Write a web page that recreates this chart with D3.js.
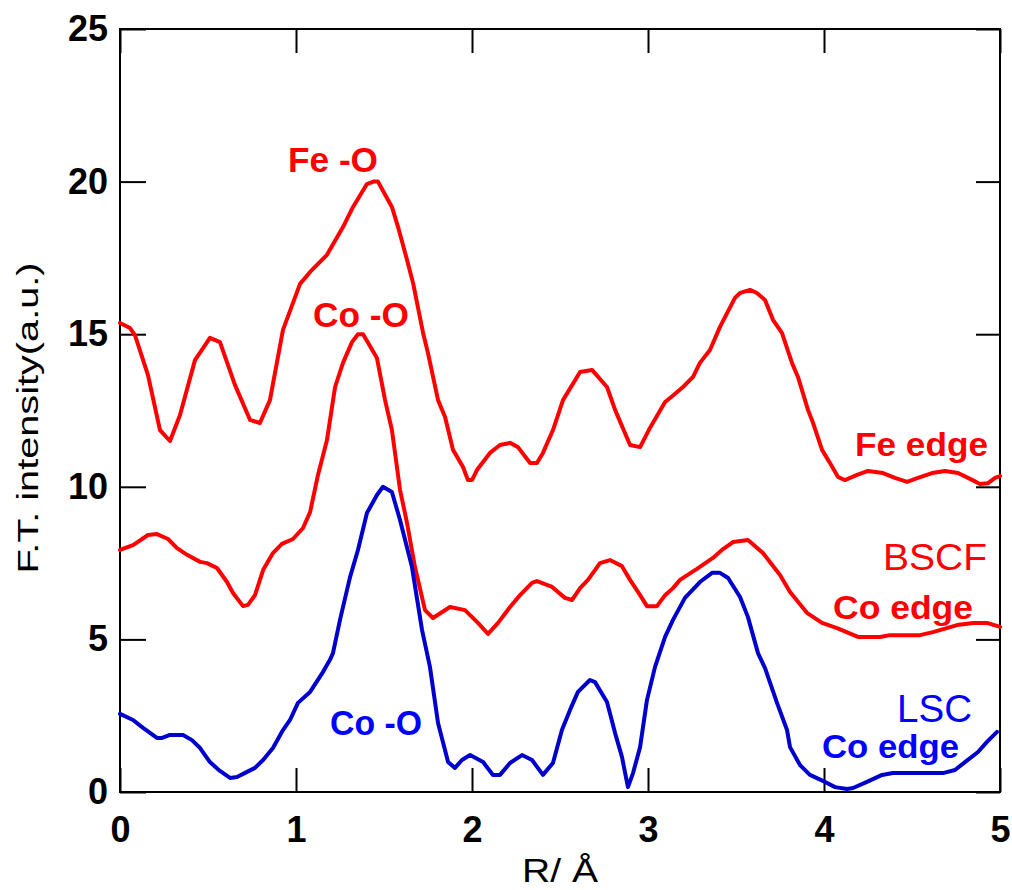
<!DOCTYPE html>
<html><head><meta charset="utf-8">
<script src="https://cdn.jsdelivr.net/npm/d3@7"></script>
<style>body{margin:0;background:#fff}svg{display:block}</style>
</head><body><svg id="c" width="1012" height="890"></svg>
<script>
// ---- data ----
const xTicks = [0, 1, 2, 3, 4, 5];
const yTicks = [0, 5, 10, 15, 20, 25];

const feEdgeR = [0,0.057,0.085,0.159,0.227,0.284,0.341,0.426,0.511,0.568,0.653,0.739,0.795,0.852,0.926,1.023,1.080,1.176,1.267,1.324,1.403,1.440,1.466,1.494,1.545,1.580,1.631,1.665,1.722,1.750,1.807,1.847,1.892,1.949,1.977,2.000,2.028,2.102,2.159,2.216,2.261,2.330,2.369,2.403,2.460,2.517,2.614,2.682,2.767,2.813,2.869,2.898,2.955,3.011,3.097,3.125,3.199,3.256,3.295,3.352,3.409,3.494,3.523,3.580,3.619,3.665,3.710,3.761,3.818,3.852,3.909,3.938,3.989,4.034,4.080,4.119,4.188,4.250,4.335,4.403,4.472,4.534,4.614,4.688,4.761,4.830,4.886,4.932,4.972,5.0];
const feEdgeV = [15.37,15.20,14.97,13.66,11.86,11.50,12.35,14.15,14.88,14.74,13.34,12.19,12.09,12.84,15.14,16.65,17.04,17.60,18.51,19.17,19.92,20.0,20.0,19.70,19.17,18.51,17.43,16.68,15.04,14.38,12.84,12.29,11.21,10.65,10.22,10.22,10.55,11.11,11.37,11.44,11.30,10.78,10.78,11.11,11.86,12.84,13.76,13.83,13.27,12.52,11.76,11.37,11.30,11.93,12.78,12.91,13.27,13.60,14.06,14.48,15.24,16.19,16.35,16.45,16.35,16.12,15.47,15.04,14.06,13.60,12.52,12.09,11.21,10.78,10.32,10.22,10.39,10.52,10.45,10.29,10.16,10.29,10.45,10.52,10.45,10.26,10.09,10.12,10.29,10.35];

const bscfCoR = [0,0.074,0.159,0.210,0.273,0.324,0.381,0.455,0.494,0.551,0.608,0.642,0.699,0.727,0.767,0.813,0.869,0.920,0.983,1.040,1.080,1.125,1.176,1.222,1.267,1.318,1.352,1.381,1.460,1.506,1.545,1.591,1.631,1.676,1.733,1.778,1.875,1.960,2.034,2.091,2.148,2.216,2.273,2.341,2.369,2.455,2.528,2.568,2.614,2.659,2.727,2.784,2.852,2.898,2.955,2.994,3.051,3.097,3.142,3.182,3.278,3.369,3.420,3.483,3.568,3.653,3.750,3.807,3.903,3.989,4.074,4.193,4.318,4.375,4.545,4.619,4.756,4.847,4.926,5.0];
const bscfCoV = [7.93,8.09,8.42,8.45,8.29,7.99,7.77,7.54,7.50,7.34,6.88,6.52,6.09,6.13,6.45,7.27,7.83,8.13,8.29,8.65,9.17,10.39,11.53,13.27,14.06,14.74,15.0,15.0,14.22,12.84,11.86,9.90,8.81,7.37,5.96,5.70,6.06,5.96,5.54,5.18,5.54,6.06,6.45,6.85,6.91,6.72,6.36,6.29,6.68,6.95,7.50,7.60,7.40,6.95,6.45,6.09,6.09,6.45,6.68,6.95,7.31,7.67,7.93,8.19,8.26,7.83,7.11,6.55,5.87,5.54,5.37,5.08,5.08,5.14,5.14,5.24,5.47,5.54,5.54,5.41];

const lscCoR = [0,0.074,0.131,0.210,0.239,0.284,0.358,0.409,0.455,0.511,0.568,0.625,0.665,0.722,0.767,0.813,0.869,0.926,0.966,1.011,1.080,1.153,1.193,1.210,1.250,1.307,1.352,1.403,1.460,1.494,1.545,1.591,1.659,1.716,1.761,1.807,1.864,1.903,1.943,1.989,2.063,2.119,2.159,2.216,2.284,2.341,2.403,2.460,2.511,2.557,2.602,2.670,2.699,2.767,2.813,2.852,2.886,2.915,2.955,2.994,3.040,3.097,3.142,3.210,3.295,3.364,3.409,3.455,3.523,3.568,3.625,3.665,3.733,3.790,3.807,3.864,3.920,4.006,4.063,4.131,4.165,4.244,4.330,4.392,4.545,4.676,4.744,4.801,4.875,4.926,4.983];
const lscCoV = [2.56,2.36,2.10,1.77,1.77,1.87,1.87,1.70,1.44,0.98,0.69,0.46,0.49,0.66,0.79,1.05,1.44,2.03,2.36,2.92,3.28,3.93,4.33,4.55,5.64,7.04,7.93,9.14,9.73,10.0,9.83,8.91,7.37,5.31,4.10,2.26,0.98,0.79,1.05,1.21,0.98,0.56,0.56,0.95,1.21,1.05,0.56,0.95,2.03,2.69,3.28,3.67,3.60,2.95,1.93,1.15,0.16,0.62,1.47,3.01,4.10,5.08,5.64,6.36,6.88,7.18,7.18,7.01,6.39,5.73,4.55,4.06,2.92,2.03,1.47,0.88,0.56,0.33,0.16,0.10,0.13,0.33,0.56,0.62,0.62,0.62,0.72,0.98,1.31,1.64,1.97];

const RED = "#ff0000", BLUE_LINE = "#0000cc", BLUE_TEXT = "#0000ff";

// ---- chart ----
const svg = d3.select("#c");
const x = d3.scaleLinear().domain([0, 5]).range([120, 1000]);
const y = d3.scaleLinear().domain([0, 25]).range([792, 29]);
const FONT = "'Liberation Sans', Arial, sans-serif";

// axes with inward ticks
const gL = svg.append("g").attr("transform", `translate(${x(0)},0)`)
  .call(d3.axisLeft(y).tickValues(yTicks).tickFormat(d3.format("d")).tickSizeInner(-26).tickSizeOuter(0).tickPadding(12));
const gB = svg.append("g").attr("transform", `translate(0,${y(0)})`)
  .call(d3.axisBottom(x).tickValues(xTicks).tickFormat(d3.format("d")).tickSizeInner(-24).tickSizeOuter(0).tickPadding(24));
const gT = svg.append("g").attr("transform", `translate(0,${y(25)})`)
  .call(d3.axisTop(x).tickValues(xTicks).tickFormat("").tickSizeInner(-24).tickSizeOuter(0));
const gR = svg.append("g").attr("transform", `translate(${x(5)},0)`)
  .call(d3.axisRight(y).tickValues(yTicks).tickFormat("").tickSizeInner(-24).tickSizeOuter(0));
[gL, gB, gT, gR].forEach(g => {
  g.select(".domain").remove();
  g.selectAll(".tick line").attr("stroke", "#000").attr("stroke-width", 2);
  g.selectAll("text").attr("font-family", FONT).attr("font-weight", "bold").attr("font-size", 36).attr("fill", "#000");
});
svg.append("rect").attr("x", x(0)).attr("y", y(25)).attr("width", x(5) - x(0)).attr("height", y(0) - y(25))
  .attr("fill", "none").attr("stroke", "#000").attr("stroke-width", 2);

// curves
const line = d3.line().x(d => x(d[0])).y(d => y(d[1]));
function series(R, V) { return R.map((r, i) => [r, V[i]]); }
const curves = [
  { data: series(feEdgeR, feEdgeV), color: RED },
  { data: series(bscfCoR, bscfCoV), color: RED },
  { data: series(lscCoR, lscCoV), color: BLUE_LINE }
];
svg.append("g").selectAll("path").data(curves).join("path")
  .attr("d", d => line(d.data)).attr("fill", "none")
  .attr("stroke", d => d.color).attr("stroke-width", 4).attr("stroke-linejoin", "round").attr("stroke-linecap", "round");

// annotation labels
const labels = [
  { t: "Fe -O", x: 288, y: 172, c: RED, b: true, s: 35, w: 90 },
  { t: "Co -O", x: 313, y: 327, c: RED, b: true, s: 35, w: 96 },
  { t: "Co -O", x: 330, y: 735, c: BLUE_TEXT, b: true, s: 35, w: 92 },
  { t: "Fe edge", x: 855, y: 456, c: RED, b: true, s: 34, w: 133 },
  { t: "BSCF", x: 883, y: 570, c: RED, b: false, s: 36, w: 104 },
  { t: "Co edge", x: 833, y: 619, c: RED, b: true, s: 34, w: 140 },
  { t: "LSC", x: 897, y: 722, c: BLUE_TEXT, b: false, s: 38, w: 75 },
  { t: "Co edge", x: 822, y: 758, c: BLUE_TEXT, b: true, s: 33, w: 137 }
];
svg.append("g").selectAll("text").data(labels).join("text")
  .attr("x", d => d.x).attr("y", d => d.y).text(d => d.t)
  .attr("font-family", FONT).attr("font-weight", d => d.b ? "bold" : "normal")
  .attr("font-size", d => d.s).attr("fill", d => d.c)
  .attr("textLength", d => d.w).attr("lengthAdjust", "spacingAndGlyphs");

// axis titles
svg.append("text").attr("transform", "translate(38,418) rotate(-90)")
  .attr("text-anchor", "middle").attr("font-family", FONT).attr("font-size", 30)
  .attr("textLength", 311).attr("lengthAdjust", "spacingAndGlyphs")
  .text("F.T. intensity(a.u.)");
svg.append("text").attr("x", 522).attr("y", 882)
  .attr("font-family", FONT).attr("font-size", 33)
  .attr("textLength", 76).attr("lengthAdjust", "spacingAndGlyphs")
  .text("R/ Å");
</script>
</body></html>
